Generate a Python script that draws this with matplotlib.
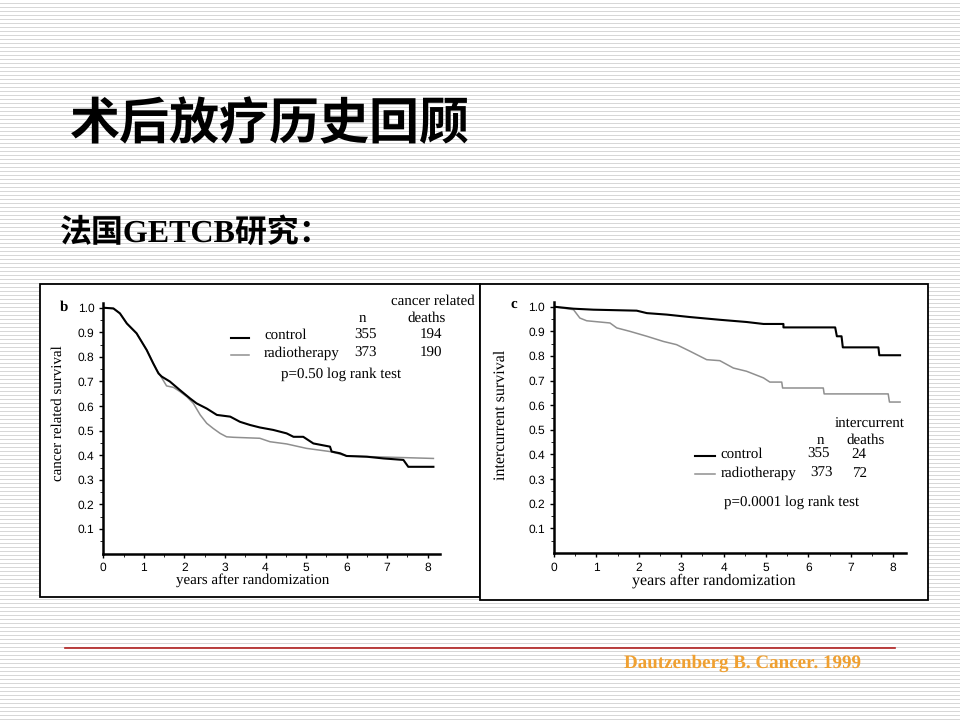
import matplotlib
matplotlib.use("Agg")
import matplotlib.pyplot as plt
import numpy as np
from matplotlib.patches import Rectangle
from matplotlib.lines import Line2D

plt.rcParams["text.hinting_factor"] = 1
plt.rcParams["text.hinting"] = "no_hinting"

# panel b: cancer related survival (years, survival)
b_ctrl_x = [0, 0.25, 0.41, 0.58, 0.82, 1.07, 1.23, 1.36, 1.44, 1.64, 1.89, 2.14, 2.3, 2.55, 2.8,
            3.13, 3.37, 3.62, 3.86, 4.19, 4.52, 4.69, 4.93, 5.18, 5.59, 5.63, 5.84, 6.0, 6.5,
            6.91, 7.4, 7.52, 8.14]
b_ctrl_y = [1.0, 0.997, 0.977, 0.936, 0.896, 0.828, 0.774, 0.733, 0.72, 0.70, 0.665, 0.631,
            0.611, 0.59, 0.564, 0.557, 0.536, 0.523, 0.513, 0.503, 0.489, 0.475, 0.475, 0.448,
            0.435, 0.415, 0.408, 0.397, 0.394, 0.387, 0.381, 0.353, 0.353]
b_rt_x = [0, 0.25, 0.41, 0.58, 0.82, 1.07, 1.23, 1.32, 1.4, 1.56, 1.73, 1.89, 2.06, 2.22, 2.39,
          2.55, 2.71, 2.88, 3.04, 3.21, 3.86, 4.11, 4.52, 5.01, 5.59, 5.76, 6.0, 8.14]
b_rt_y = [1.0, 0.997, 0.977, 0.936, 0.896, 0.828, 0.774, 0.746, 0.726, 0.682, 0.676, 0.659,
          0.638, 0.611, 0.564, 0.53, 0.509, 0.489, 0.475, 0.473, 0.469, 0.455, 0.446, 0.428,
          0.415, 0.408, 0.397, 0.387]

# panel c: intercurrent survival
c_ctrl_x = [0, 0.46, 0.93, 1.95, 2.19, 2.66, 3.21, 3.91, 4.54, 4.94, 5.41, 5.41, 6.63, 6.67,
            6.78, 6.81, 7.65, 7.67, 8.16]
c_ctrl_y = [1.0, 0.992, 0.988, 0.984, 0.974, 0.968, 0.958, 0.947, 0.938, 0.93, 0.93, 0.916,
            0.916, 0.88, 0.88, 0.835, 0.835, 0.803, 0.803]
c_rt_x = [0, 0.46, 0.61, 0.77, 1.32, 1.48, 1.79, 2.19, 2.58, 2.89, 3.21, 3.6, 3.91, 4.23, 4.54,
          4.94, 5.09, 5.37, 5.39, 6.35, 6.37, 7.88, 7.91, 8.16]
c_rt_y = [1.0, 0.988, 0.954, 0.943, 0.934, 0.914, 0.90, 0.88, 0.859, 0.846, 0.819, 0.785, 0.781,
          0.751, 0.738, 0.711, 0.694, 0.694, 0.67, 0.67, 0.646, 0.646, 0.613, 0.613]

yticks = [0.1, 0.2, 0.3, 0.4, 0.5, 0.6, 0.7, 0.8, 0.9, 1.0]
xticks = [0, 1, 2, 3, 4, 5, 6, 7, 8]

W, H = 960, 720
fig = plt.figure(figsize=(9.6, 7.2), dpi=100)

# striped slide background
stripes = np.ones((H, 1))
stripes[3::4] = 0.84
bg = fig.add_axes([0, 0, 1, 1])
bg.imshow(stripes, aspect="auto", cmap="gray", vmin=0, vmax=1, interpolation="nearest")
bg.axis("off")
bg.set_zorder(-10)


def px(x, y):
    return x / W, 1 - y / H


def ftext(x, y, s, **kw):
    fig.text(*px(x, y), s, zorder=20, **kw)


cjk = ["Noto Sans CJK SC", "DejaVu Sans"]
serif = ["Liberation Serif", "Noto Sans CJK SC"]

ftext(70, 125, "术后放疗历史回顾", fontsize=36, family=cjk, weight="bold", va="center", ha="left")
ftext(60, 233, "法国GETCB研究：", fontsize=23, family=serif, weight="bold", va="center", ha="left")

# panel frames
for x0, y0, x1, y1 in [(40, 284, 480, 597), (480, 284, 928, 600)]:
    fig.add_artist(Rectangle(px(x0, y1), (x1 - x0) / W, (y1 - y0) / H, transform=fig.transFigure,
                             facecolor="white", edgecolor="black", lw=1.3, zorder=-5))

fig.add_artist(Line2D([65 / W, 895 / W], [1 - 648 / H] * 2, color="#b02020", lw=1.2))
ftext(742, 663, "Dautzenberg B. Cancer. 1999", fontsize=13.4, family="Liberation Serif",
      weight="bold", color="#f0a030", ha="center", va="center")


def km_axes(rect, ylabel, cx, cy, rx, ry, xlab_pos, ylab_pos, xlab_size, ylab_size):
    ax = fig.add_axes(rect)
    ax.set_zorder(5)
    ax.plot(rx, ry, color="#8f8f8f", lw=1.1)
    ax.plot(cx, cy, color="black", lw=1.5)
    ax.set_xlim(0, 8.3)
    ax.set_ylim(0, 1.02)
    ax.set_xticks(xticks)
    ax.set_yticks(yticks)
    ax.set_xticks(np.arange(0, 8.5, 0.5), minor=True)
    ax.set_yticks(np.arange(0.05, 1.0, 0.1), minor=True)
    ax.tick_params(labelsize=8.3, length=3, width=1)
    ax.tick_params(which="minor", length=2)
    for lab in ax.get_xticklabels() + ax.get_yticklabels():
        lab.set_family("Liberation Sans")
    for s in ["top", "right"]:
        ax.spines[s].set_visible(False)
    for s in ["left", "bottom"]:
        ax.spines[s].set_linewidth(1.8)
    ax.set_xlabel("years after randomization", family="Liberation Serif", fontsize=xlab_size)
    ax.set_ylabel(ylabel, family="Liberation Serif", fontsize=ylab_size)
    ax.xaxis.set_label_coords(*xlab_pos)
    ax.yaxis.set_label_coords(*ylab_pos)
    ax.xaxis.label.set_va("center")
    ax.yaxis.label.set_va("center")
    ax.patch.set_alpha(0)
    return ax


km_axes([103.3 / W, 166.4 / H, 336.6 / W, 250.8 / H], "cancer related survival",
        b_ctrl_x, b_ctrl_y, b_rt_x, b_rt_y, (0.445, -0.106), (-0.134, 0.559), 10.7, 10.6)
km_axes([554 / W, 167 / H, 352 / W, 251.2 / H], "intercurrent survival",
        c_ctrl_x, c_ctrl_y, c_rt_x, c_rt_y, (0.455, -0.111), (-0.151, 0.549), 11.5, 11.5)

tf = dict(family="Liberation Serif", fontsize=10.9, va="center")

# panel b annotations
ftext(60, 307, "b", weight="bold", **tf)
ftext(432.7, 301.7, "cancer related", ha="center", **tf)
ftext(426.7, 318.3, "deaths", ha="center", **tf)
ftext(362.7, 318.3, "n", ha="center", **tf)
fig.add_artist(Line2D([230.7 / W, 249.3 / W], [1 - 337.7 / H] * 2, color="black", lw=1.5))
fig.add_artist(Line2D([230.7 / W, 249.3 / W], [1 - 355 / H] * 2, color="#8f8f8f", lw=1.1))
ftext(264, 335, "control", ha="left", **tf)
ftext(366, 335, "355", ha="center", **tf)
ftext(430.7, 335, "194", ha="center", **tf)
ftext(264, 353.3, "radiotherapy", ha="left", **tf)
ftext(366, 353.3, "373", ha="center", **tf)
ftext(430.7, 353.3, "190", ha="center", **tf)
ftext(280.7, 374.3, "p=0.50 log rank test", ha="left", **tf)

# panel c annotations
ftext(510, 304, "c", weight="bold", **tf)
ftext(869.3, 424.3, "intercurrent", ha="center", **tf)
ftext(866, 440, "deaths", ha="center", **tf)
ftext(820, 440, "n", ha="center", **tf)
fig.add_artist(Line2D([695 / W, 715 / W], [1 - 455.7 / H] * 2, color="black", lw=1.5))
fig.add_artist(Line2D([695 / W, 715 / W], [1 - 474.3 / H] * 2, color="#8f8f8f", lw=1.1))
ftext(720.7, 454.3, "control", ha="left", **tf)
ftext(818.3, 454.3, "355", ha="center", **tf)
ftext(859.3, 454.3, "24", ha="center", **tf)
ftext(720.7, 473.3, "radiotherapy", ha="left", **tf)
ftext(821.7, 473.3, "373", ha="center", **tf)
ftext(859.3, 473.3, "72", ha="center", **tf)
ftext(724.3, 501.7, "p=0.0001 log rank test", ha="left", **tf)

fig.savefig("out.png", dpi=100)
